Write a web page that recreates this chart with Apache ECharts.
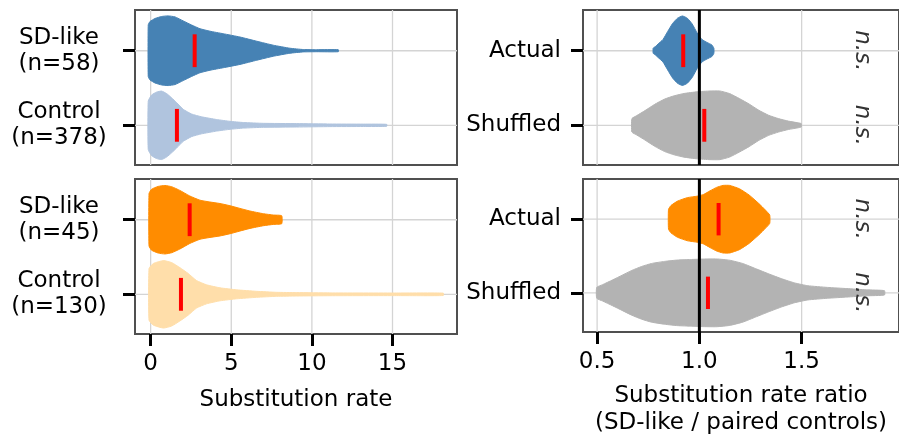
<!DOCTYPE html>
<html><head><meta charset="utf-8">
<script src="https://cdn.jsdelivr.net/npm/echarts@6/dist/echarts.min.js"></script>
<style>html,body{margin:0;padding:0;background:#fff}#c{width:899px;height:438px}</style>
</head><body><div id="c"></div><script>
const FONT = 'DejaVu Sans';
// ---- categories & ticks ----
const catsTopLeft = ['SD-like\n(n=58)', 'Control\n(n=378)'];
const catsBottomLeft = ['SD-like\n(n=45)', 'Control\n(n=130)'];
const catsRight = ['Actual', 'Shuffled'];
const rateTicks = [0, 5, 10, 15];
const ratioTicks = [0.5, 1.0, 1.5];
const ratioRef = [1.0];
const sigLabels = ['n.s.', 'n.s.'];

// ---- violin profiles (position along x, relative density width) ----
const sdLikeTopX = [-0.15, -0.04, 0.27, 0.68, 1.09, 1.51, 2.02, 2.54, 3.06, 3.68, 4.50, 5.54, 6.58, 7.61, 8.64, 9.47, 10.30, 11.64];
const sdLikeTopW = [25.8, 29.2, 32.2, 34.2, 34.8, 33.8, 29.8, 25.7, 22.0, 19.5, 17.0, 13.7, 9.5, 5.5, 2.5, 1.2, 1.0, 1.0];
const controlTopX = [-0.15, 0.06, 0.37, 0.68, 0.99, 1.30, 1.61, 2.02, 2.54, 3.16, 4.09, 4.92, 5.75, 6.99, 9.06, 11.12, 13.19, 14.64];
const controlTopW = [24.2, 30.3, 33.2, 34.2, 31.7, 27.5, 22.7, 16.0, 11.3, 8.5, 5.8, 4.0, 2.8, 2.0, 1.7, 1.3, 1.2, 1.0];
const sdLikeBotX = [-0.10, 0.06, 0.47, 0.88, 1.30, 1.81, 2.43, 3.06, 3.68, 4.30, 4.92, 5.54, 6.16, 6.99, 7.61, 8.13];
const sdLikeBotW = [26.2, 30.5, 33.3, 34.2, 33.0, 29.3, 23.7, 19.5, 17.7, 16.2, 14.0, 11.3, 8.7, 6.0, 4.7, 4.0];
const controlBotX = [-0.10, 0.17, 0.79, 1.30, 1.81, 2.33, 2.85, 3.47, 4.30, 5.33, 6.57, 7.82, 9.06, 11.12, 15.26, 18.15];
const controlBotW = [25.8, 30.8, 33.7, 31.7, 26.7, 20.8, 13.7, 9.5, 6.5, 4.5, 3.0, 2.0, 1.7, 1.4, 1.3, 1.2];

const actualTopX = [0.774, 0.785, 0.798, 0.822, 0.845, 0.869, 0.893, 0.917, 0.941, 0.965, 0.989, 1.013, 1.037, 1.061, 1.071];
const actualTopW = [2.5, 4.2, 6.7, 11.2, 19.2, 27.2, 32.5, 34.7, 32.5, 26.7, 17.8, 11.2, 8.3, 5.8, 2.5];
const shuffledTopX = [0.670, 0.694, 0.734, 0.782, 0.830, 0.877, 0.925, 0.989, 1.052, 1.100, 1.148, 1.196, 1.243, 1.291, 1.339, 1.387, 1.435, 1.482, 1.498];
const shuffledTopW = [6.7, 9.7, 14.7, 21.0, 26.2, 29.5, 31.8, 33.5, 34.3, 34.3, 31.7, 26.7, 21.3, 15.0, 10.0, 6.7, 4.2, 2.5, 1.7];
const actualBotX = [0.849, 0.861, 0.893, 0.941, 0.989, 1.020, 1.052, 1.084, 1.116, 1.148, 1.196, 1.243, 1.291, 1.323, 1.344];
const actualBotW = [10.0, 13.8, 18.3, 21.8, 23.3, 25.0, 28.7, 32.2, 34.2, 34.2, 30.8, 24.5, 15.8, 9.2, 4.2];
const shuffledBotX = [0.498, 0.527, 0.575, 0.622, 0.670, 0.718, 0.766, 0.830, 0.893, 0.957, 1.020, 1.084, 1.148, 1.212, 1.275, 1.339, 1.403, 1.466, 1.530, 1.626, 1.721, 1.817, 1.905];
const shuffledBotW = [5.5, 8.3, 13.0, 17.8, 22.7, 26.7, 29.7, 31.8, 33.2, 33.7, 34.2, 34.3, 33.0, 29.7, 24.5, 19.2, 14.2, 10.0, 7.2, 5.5, 4.3, 3.0, 2.2];

// ---- medians ----
const mediansTopLeft = [2.73, 1.63];
const mediansBottomLeft = [2.42, 1.88];
const mediansTopRight = [0.921, 1.024];
const mediansBottomRight = [1.094, 1.042];

// ---- layout / style ----
const FS = 23;
const W2U = 1 / 74.5;          // density width -> category units
const MED_HALF = 0.22;         // median bar half height (category units)
const SIG_X = 1.797;
const Y_MIN = -0.546, Y_MAX = 1.532;
const RATE_MIN = -0.97, RATE_MAX = 19.0;
const RATIO_MIN = 0.431, RATIO_MAX = 1.976;

const panels = [
  {grid:{left:135, top:10, width:322, height:155}, cats:catsTopLeft, xs:[sdLikeTopX, controlTopX], ws:[sdLikeTopW, controlTopW],
   medians:mediansTopLeft, colors:['#4682b4', '#b0c4de'], ticks:rateTicks, xmin:RATE_MIN, xmax:RATE_MAX, right:false, bottom:false},
  {grid:{left:135, top:179, width:322, height:155}, cats:catsBottomLeft, xs:[sdLikeBotX, controlBotX], ws:[sdLikeBotW, controlBotW],
   medians:mediansBottomLeft, colors:['#ff8c00', '#ffdeaa'], ticks:rateTicks, xmin:RATE_MIN, xmax:RATE_MAX, right:false, bottom:true,
   name:'Substitution rate'},
  {grid:{left:583, top:10, width:323, height:155}, cats:catsRight, xs:[actualTopX, shuffledTopX], ws:[actualTopW, shuffledTopW],
   medians:mediansTopRight, colors:['#4682b4', '#b3b3b3'], ticks:ratioTicks, xmin:RATIO_MIN, xmax:RATIO_MAX, right:true, bottom:false},
  {grid:{left:583, top:179, width:323, height:155}, cats:catsRight, xs:[actualBotX, shuffledBotX], ws:[actualBotW, shuffledBotW],
   medians:mediansBottomRight, colors:['#ff8c00', '#b3b3b3'], ticks:ratioTicks, xmin:RATIO_MIN, xmax:RATIO_MAX, right:true, bottom:true,
   name:'Substitution rate ratio\n(SD-like / paired controls)'}
];

const grids = [], xAxes = [], yAxes = [], series = [];
panels.forEach((P, i) => {
  grids.push(Object.assign({show:true, borderColor:'#505050', borderWidth:2, backgroundColor:'transparent', containLabel:false}, P.grid));
  xAxes.push({
    gridIndex:i, type:'value', min:P.xmin, max:P.xmax, position:'bottom',
    axisLine:{show:false, onZero:false}, splitLine:{show:false},
    axisTick:{show:P.bottom, customValues:P.ticks, length:12, lineStyle:{color:'#000', width:3}},
    axisLabel:{show:P.bottom, customValues:P.ticks, margin:19, fontSize:FS, color:'#000', fontFamily:FONT,
      formatter: v => P.right ? Number(v).toFixed(1) : String(v)},
    name:P.bottom ? P.name : '', nameLocation:'middle', nameGap:P.right ? 51 : 53,
    nameTextStyle:{fontSize:FS, color:'#000', fontFamily:FONT, lineHeight:27}
  });
  yAxes.push({
    gridIndex:i, type:'value', min:Y_MIN, max:Y_MAX, inverse:true, position:'left',
    axisLine:{show:false, onZero:false}, splitLine:{show:false},
    axisTick:{show:true, customValues:[0, 1], length:12, lineStyle:{color:'#000', width:3}},
    axisLabel:{show:true, customValues:[0, 1], formatter: v => P.cats[Math.round(v)],
      align:P.right ? 'right' : 'center', margin:P.right ? 22 : 76, fontSize:FS, lineHeight:P.right ? FS : 26,
      padding:[5, 0, 0, 0], color:'#000', fontFamily:FONT}
  });
  // vertical grid lines
  series.push({type:'custom', xAxisIndex:i, yAxisIndex:i, silent:true, z:1,
    data:P.ticks.map(t => [t, 0]),
    renderItem:(params, api) => {
      const cs = params.coordSys; const x = api.coord([api.value(0), 0])[0];
      return {type:'line', shape:{x1:x, y1:cs.y, x2:x, y2:cs.y + cs.height}, style:{stroke:'#d4d4d4', lineWidth:1.3}};
    }});
  // horizontal grid lines
  series.push({type:'custom', xAxisIndex:i, yAxisIndex:i, silent:true, z:1,
    data:[0, 1].map(c => [P.xmin, c]),
    renderItem:(params, api) => {
      const cs = params.coordSys; const y = api.coord([api.value(0), api.value(1)])[1];
      return {type:'line', shape:{x1:cs.x, y1:y, x2:cs.x + cs.width, y2:y}, style:{stroke:'#d4d4d4', lineWidth:1.3}};
    }});
  // violins
  series.push({type:'custom', xAxisIndex:i, yAxisIndex:i, silent:true, z:2,
    data:P.medians.map((m, k) => [m, k]),
    renderItem:(params, api) => {
      const k = params.dataIndex, xs = P.xs[k], ws = P.ws[k], pts = [];
      for (let j = 0; j < xs.length; j++) pts.push(api.coord([xs[j], k - ws[j] * W2U]));
      for (let j = xs.length - 1; j >= 0; j--) pts.push(api.coord([xs[j], k + ws[j] * W2U]));
      return {type:'polygon', shape:{points:pts, smooth:0.15}, style:{fill:P.colors[k], stroke:P.colors[k], lineWidth:1, lineJoin:'round'}};
    }});
  if (P.right) {
    series.push({type:'custom', xAxisIndex:i, yAxisIndex:i, silent:true, z:3,
      data:ratioRef.map(v => [v, 0]),
      renderItem:(params, api) => {
        const cs = params.coordSys; const x = api.coord([api.value(0), 0])[0];
        return {type:'line', shape:{x1:x, y1:cs.y, x2:x, y2:cs.y + cs.height}, style:{stroke:'#000', lineWidth:3}};
      }});
    series.push({type:'custom', xAxisIndex:i, yAxisIndex:i, silent:true, z:5,
      data:sigLabels.map((s, k) => [SIG_X, k]),
      renderItem:(params, api) => {
        const p = api.coord([api.value(0), api.value(1)]);
        return {type:'text', x:p[0], y:p[1], rotation:-Math.PI / 2,
          style:{text:sigLabels[params.dataIndex], fontSize:FS, fontStyle:'italic', fontFamily:FONT, fill:'#333', align:'center', verticalAlign:'middle'}};
      }});
  }
  // medians
  series.push({type:'custom', xAxisIndex:i, yAxisIndex:i, silent:true, z:4,
    data:P.medians.map((m, k) => [m, k]),
    renderItem:(params, api) => {
      const m = api.value(0), k = api.value(1);
      const a = api.coord([m, k - MED_HALF]), b = api.coord([m, k + MED_HALF]);
      return {type:'rect', shape:{x:a[0] - 2, y:a[1], width:4, height:b[1] - a[1]}, style:{fill:'#ff0000'}};
    }});
});

const chart = echarts.init(document.getElementById('c'), null, {renderer:'canvas'});
chart.setOption({
  animation:false,
  textStyle:{fontFamily:FONT},
  grid:grids, xAxis:xAxes, yAxis:yAxes, series:series
});
</script></body></html>
